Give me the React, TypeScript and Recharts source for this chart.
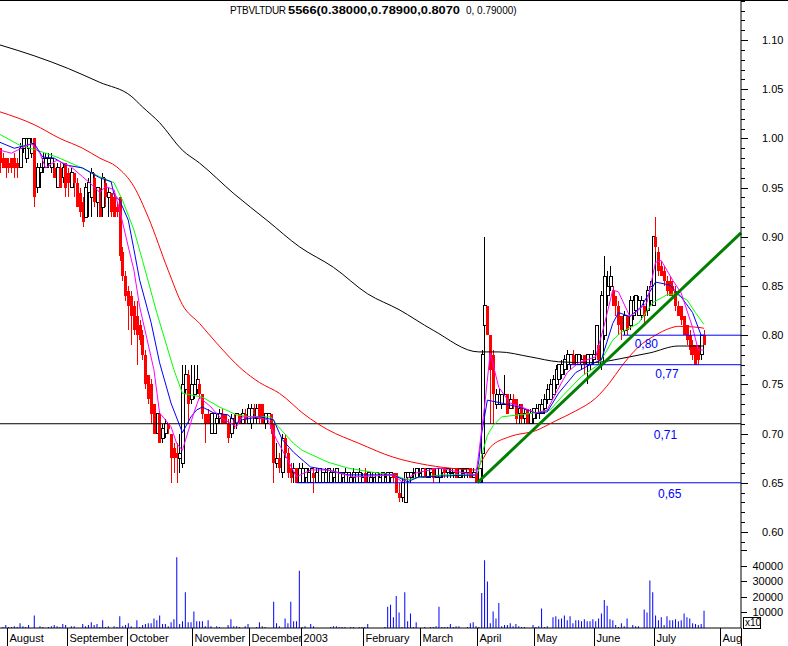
import React from "react";
import {
  ComposedChart,
  Bar,
  Line,
  XAxis,
  YAxis,
  ReferenceLine,
  ReferenceDot,
} from "recharts";

// daily candles [open, high, low, close] in cents, one array per month
const aug02 = [
  [99, 99, 96.5, 97.5], [98, 98.5, 97, 97], [98, 98, 96, 97], [97.5, 98, 96.5, 97],
  [98, 98, 96.5, 97], [98, 98.5, 96, 97], [97.5, 98, 96, 97], [97, 99.5, 97, 99],
  [99, 100, 98.5, 100], [98, 100, 97.5, 100], [99, 100, 98, 100], [98.5, 100, 98, 99.5],
  [100, 100, 93, 94], [95, 97.5, 94.5, 97], [96.5, 97.5, 95, 97], [97, 98.5, 96.5, 98],
  [97, 98.5, 97, 98], [97.5, 98.5, 97, 98], [97, 98.5, 96.5, 98], [97, 97.5, 96, 96],
  [95, 97.5, 95, 97], [97, 97.5, 95, 95], [96, 97.5, 95.5, 97], [97.5, 97.5, 94, 95],
];
const sep02 = [
  [96.5, 97, 94, 95.5], [95, 97, 95, 96.5], [96.5, 96.5, 94, 95.5], [95.5, 96, 93, 93],
  [94.5, 95, 92, 92.5], [93.5, 94, 91, 91.5], [92, 95.5, 92, 95], [94.5, 96, 92, 95.5],
  [94, 97, 92, 96.5], [96, 96.5, 93, 93.5], [93.5, 95, 92, 95], [95, 95, 92, 92],
  [93, 96.5, 92, 96], [95.5, 96, 93, 94], [94, 95, 92, 94.5], [94.5, 94.5, 92, 92.5],
  [94, 94.5, 92, 92], [93, 93.5, 92, 92.5], [94, 94, 87.5, 88], [88.5, 89, 85.5, 86],
  [86, 86.5, 83.5, 84],
];
const oct02 = [
  [84.5, 85, 80.5, 83], [84, 84.5, 79, 82], [83, 83.5, 80, 80.5], [82, 83.5, 77, 80],
  [81, 81.5, 79, 79.5], [80, 80.5, 77.5, 78], [78, 78.5, 74.5, 75], [76, 76, 73, 73.5],
  [75, 75.5, 71, 72], [73, 73, 70, 70], [70, 72, 70, 72], [72, 72, 69, 69],
  [69.5, 71, 69, 70.5], [70, 71.5, 69.5, 71], [71, 71, 70, 70.5], [70, 70, 65, 67.5],
  [68.5, 69, 66, 67.5], [68, 69, 65, 67.5], [67.5, 70, 66, 68], [67, 77, 66.5, 75],
  [74.5, 77, 74, 76], [76, 76.5, 71, 73], [73.5, 77, 73, 75],
];
const nov02 = [
  [74, 77, 73.5, 75], [74.5, 77, 74, 75.5], [75, 75.5, 73.5, 74], [74, 74, 71.5, 72],
  [72, 72, 69, 71], [72, 72.5, 71, 71], [70, 72, 70, 72], [70, 72, 70, 72],
  [71, 72, 70.5, 71.5], [71.5, 72.5, 71, 72], [72, 72.5, 71, 71], [72, 72, 71, 71],
  [71, 71.5, 69, 69.5], [70, 72, 69.5, 71.5], [71.5, 72, 70.5, 71], [71, 72, 70.5, 72],
  [72, 72, 71, 71], [71, 72.5, 71, 72], [72, 72.5, 71, 71.5], [71, 73, 71, 72.5],
];
const dec02 = [
  [71, 73, 70.5, 72.5], [72.5, 73, 71.5, 72], [71.5, 73, 71, 72.5], [73, 73, 71, 71.5],
  [73, 73, 71, 71], [71, 72, 70.5, 72], [71, 72, 71, 72], [72, 72, 70, 70.5],
  [71, 71, 65, 67], [67, 69, 66.5, 67.5], [67.5, 68, 66, 66.5], [66, 70, 65.5, 69.5],
  [69.5, 70, 67.5, 68], [68, 68.5, 65.5, 66], [66.5, 67, 65, 65.5], [66, 67, 65, 66.5],
  [66.5, 66.5, 65, 65], [65, 67, 65, 66.5],
];
const jan03 = [
  [65, 67, 65, 66.5], [65.5, 66.5, 65, 66.5], [65, 66.5, 65, 66], [65, 66.5, 65, 66.5],
  [66, 66.5, 64, 65.5], [65, 66.5, 65, 66], [65, 66.5, 65, 66.5], [65, 66, 65, 66],
  [65, 66.5, 65, 66], [65, 66.5, 65, 66.5], [65, 66, 65, 66], [65.5, 66.5, 65, 66],
  [65, 66.5, 65, 66.5], [65, 66, 65, 66], [65.5, 66, 65, 66], [65, 66.5, 65, 66],
  [65, 66, 65, 66], [65, 66, 65, 65.5], [65.5, 66.5, 65, 66], [65, 66, 65, 66],
  [65, 66.5, 65, 66], [65, 66, 65, 65.5],
];
const feb03 = [
  [66, 66.5, 65, 65], [65, 66, 65, 66], [65, 66, 65, 65.5], [65.5, 66, 65, 66],
  [65, 66, 65, 66], [65, 66, 65, 65.5], [65, 66, 65, 66], [65, 66, 65, 65.5],
  [65, 66, 65, 66], [65.5, 66, 65, 66], [66, 66, 65, 65.5], [66, 66, 64, 64],
  [64, 65, 63, 63.5], [63.5, 65.5, 63, 65], [63, 66, 63, 66], [65.5, 66, 65, 66],
  [65.5, 66, 65, 66], [66, 66.5, 65.5, 66], [65.5, 66.5, 65.5, 66.5], [66, 66.5, 65.5, 66],
];
const mar03 = [
  [65.5, 66.5, 65.5, 66.5], [66.5, 66.5, 65.5, 65.5], [65.5, 66.5, 65.5, 66.5], [66, 66.5, 65.5, 66.5],
  [66.5, 66.5, 65, 65.5], [65.5, 66.5, 65.5, 66.5], [65.5, 66.5, 65, 66.5], [66, 66.5, 65.5, 66.5],
  [66.5, 66.5, 65.5, 66], [66, 66.5, 65.5, 66.5], [66, 66.5, 65.5, 66], [66, 66.5, 65.5, 66.5],
  [66.5, 66.5, 65.5, 65.5], [65.5, 66.5, 65.5, 66.5], [66, 66.5, 65.5, 66], [66, 66.5, 65.5, 66.5],
  [66, 66.5, 65.5, 66.5], [66.5, 66.5, 65.5, 65.5], [65.5, 66.5, 65.5, 66], [66, 66.5, 65, 65],
];
const apr03 = [
  [65, 66.5, 65, 66.5], [68, 78.5, 65, 78], [81, 90, 78, 83], [83, 83, 80, 80],
  [80, 80, 71, 76.5], [78, 78.5, 71, 74], [73, 74.5, 72.5, 74], [73, 74.5, 73, 74],
  [73, 74, 72.5, 74], [73, 76, 73, 74], [74, 74, 72, 72], [72.5, 74, 72.5, 73.5],
  [73.5, 74, 72.5, 73], [73.5, 73.5, 71, 71.5], [72, 73, 71, 72.5], [73, 73, 71, 71.5],
  [71.5, 72.5, 71, 72], [72.5, 72.5, 71, 71], [71, 72.5, 71, 72], [71.5, 72.5, 71, 72.5],
];
const may03 = [
  [72, 73, 71.5, 72.5], [72, 73, 71.5, 73], [72, 73.5, 72, 73], [72.5, 74, 72, 73.5],
  [73.5, 75, 73, 74.5], [73.5, 75.5, 73.5, 75], [74, 76, 74, 75.5], [75, 77, 74.5, 76.5],
  [75.5, 77, 75, 77], [76, 77.5, 75.5, 77], [76.5, 78, 76, 77.5], [77, 78.5, 76.5, 78],
  [77, 78, 76.5, 78], [78, 78.5, 77, 77], [77, 78, 77, 78], [77, 78, 77, 78],
  [77, 78, 76.5, 77.5], [78, 78, 76, 77], [77, 78, 75, 78], [77, 78, 76.5, 78],
  [77.5, 78.5, 77, 78],
];
const jun03 = [
  [78, 81, 78, 81], [79, 79, 77, 77.5], [77, 84.5, 76.5, 84], [80, 88, 79.5, 86],
  [84, 86.5, 83, 85], [85, 87, 84.5, 86], [84.5, 85, 83, 83], [84, 84, 82, 83],
  [83, 83.5, 80, 81], [82, 82, 79.5, 80.5], [80.5, 82.5, 80, 82], [82, 82, 80, 80.5],
  [81, 84, 80.5, 83.5], [82, 84, 81.5, 83.5], [82.5, 84, 82, 84], [82, 84, 82, 83.5],
  [82, 84, 81.5, 83.5], [83, 83, 81, 82], [82.5, 85, 82, 84.5], [83.5, 85.5, 83, 85],
  [83, 90, 83, 90],
];
const jul03 = [
  [90, 92, 88.5, 89], [88.5, 89, 86, 86.5], [87, 87.5, 86, 86], [86.5, 87, 85, 85.5],
  [85.5, 86, 84, 84.5], [85.5, 86, 84, 84], [85, 85.5, 84, 84.5], [84.5, 85, 82.5, 83],
  [83, 83.5, 82, 82], [83, 83, 81, 81.5], [82, 82, 80, 80], [81, 81, 79, 79.5],
  [80, 80.5, 78, 78.5], [79, 79.5, 77.5, 78], [79, 79, 77, 77], [79, 79, 77, 77.5],
  [78, 80, 77.5, 80], [80, 80.5, 79, 79],
];

// volume in thousands, [day, volume]
const volumeK = [
  [1, 0.6], [2, 2], [3, 0.6], [4, 0.6], [5, 1.2], [6, 0.6], [7, 3], [8, 1.2], [9, 0.6], [10, 2],
  [12, 8], [14, 1.2], [15, 0.6], [17, 0.6], [18, 1.2], [19, 2], [20, 1.2], [21, 0.6], [22, 2.5],
  [23, 2], [25, 1.2], [26, 1.2], [29, 2.5], [30, 1.2], [31, 2], [32, 3.7], [33, 2], [34, 2.5],
  [35, 0.6], [36, 5], [37, 0.6], [38, 1.2], [40, 1.2], [41, 0.6], [42, 7.5], [43, 1.2], [44, 2],
  [45, 3], [46, 1.2], [48, 5], [49, 0.6], [50, 2], [51, 2.5], [52, 3], [53, 3], [54, 6.2],
  [55, 5], [56, 8], [57, 2.5], [58, 2.5], [59, 1.2], [60, 3.7], [61, 5.6], [62, 45.6], [63, 2.5],
  [64, 4.4], [65, 23], [66, 3.7], [67, 3.7], [68, 10.6], [69, 4.4], [70, 4.4], [71, 4.4],
  [72, 1.2], [73, 5], [74, 1.2], [76, 1.2], [77, 0.6], [80, 2], [81, 5.6], [82, 1.2], [83, 1.2],
  [84, 0.6], [86, 1.2], [87, 2.5], [90, 0.6], [91, 3.7], [92, 1.2], [93, 0.6], [96, 17], [97, 3],
  [98, 1.2], [100, 6.2], [101, 3], [102, 17], [103, 4.4], [104, 4.4], [105, 37], [106, 0.6],
  [107, 1.2], [109, 2.5], [110, 1.2], [116, 0.6], [117, 1.2], [118, 1.2], [119, 0.6], [120, 0.6],
  [121, 0.6], [123, 0.6], [124, 0.6], [126, 0.6], [127, 0.6], [128, 0.6], [129, 2.5], [135, 0.6],
  [136, 13.7], [137, 15], [138, 6.9], [139, 20.6], [140, 10], [141, 0.6], [142, 23], [143, 4.4],
  [144, 9.4], [145, 0.6], [146, 3.7], [149, 0.6], [151, 0.6], [152, 0.6], [153, 1.2], [154, 13.7],
  [155, 0.6], [156, 0.6], [157, 0.6], [158, 2.5], [159, 0.6], [160, 1.2], [161, 1.2], [164, 0.6],
  [165, 3], [166, 3.7], [167, 1.2], [168, 0.6], [169, 22.5], [170, 43.7], [171, 30], [172, 3],
  [173, 10.6], [174, 6.2], [175, 16.2], [176, 1.2], [177, 2], [178, 2], [179, 3], [180, 1.2],
  [181, 2.5], [182, 1.2], [183, 0.6], [184, 0.6], [187, 2], [188, 0.6], [189, 1.2], [190, 12.5],
  [191, 0.6], [192, 1.2], [194, 6.9], [195, 7.5], [196, 5.6], [197, 6.2], [198, 8.1], [199, 5],
  [200, 7.5], [201, 3], [202, 5], [203, 5], [204, 4.4], [205, 5.6], [206, 4.4], [207, 4.4],
  [208, 5.6], [209, 4.4], [210, 6.2], [211, 9.4], [212, 18], [213, 14.4], [214, 5.6], [215, 5],
  [216, 2], [217, 0.6], [218, 3], [219, 1.2], [220, 6.2], [222, 2], [223, 1.2], [224, 1.2],
  [226, 11.9], [227, 10], [228, 30.6], [229, 23], [230, 8], [231, 5], [232, 6.9], [233, 2],
  [234, 7.5], [235, 5], [236, 5], [237, 5.6], [238, 4.4], [239, 5], [240, 9.4], [241, 6.9],
  [242, 6.2], [243, 3], [244, 2.5], [245, 2], [246, 2.5], [247, 11.2],
];

// moving averages, [day, price]
const blackMa = [
  [0, 1.095], [12, 1.084], [24, 1.071], [35, 1.057], [46, 1.043], [50, 1.032], [56, 1.016],
  [64, 0.988], [70, 0.975], [82, 0.944], [94, 0.916], [105, 0.89], [117, 0.869], [129, 0.842],
  [140, 0.826], [152, 0.805], [168, 0.783], [175, 0.783], [186, 0.778], [196, 0.773],
  [207, 0.772], [221, 0.778], [228, 0.782], [238, 0.789], [247, 0.789],
];
const redMa = [
  [0, 1.027], [12, 1.014], [21, 1.0], [29, 0.99], [35, 0.98], [41, 0.971], [47, 0.951],
  [52, 0.92], [59, 0.866], [64, 0.831], [70, 0.812], [76, 0.792], [85, 0.765], [91, 0.752],
  [98, 0.741], [107, 0.719], [115, 0.704], [126, 0.69], [138, 0.676], [150, 0.668],
  [161, 0.664], [167, 0.663], [169, 0.672], [172, 0.686], [179, 0.697], [188, 0.703],
  [195, 0.713], [202, 0.723], [209, 0.736], [214, 0.752], [218, 0.768], [224, 0.788],
  [230, 0.8], [235, 0.807], [238, 0.809], [245, 0.808], [247, 0.807],
];
const greenMa = [
  [0, 1.004], [7, 0.993], [13, 0.988], [20, 0.981], [28, 0.971], [35, 0.961], [40, 0.955],
  [43, 0.937], [47, 0.907], [50, 0.876], [55, 0.823], [61, 0.765], [64, 0.741], [71, 0.737],
  [77, 0.727], [83, 0.719], [88, 0.717], [95, 0.717], [97, 0.709], [103, 0.69], [106, 0.683],
  [115, 0.671], [122, 0.665], [130, 0.661], [138, 0.658], [143, 0.653], [146, 0.655],
  [155, 0.658], [167, 0.658], [168, 0.663], [169, 0.678], [171, 0.698], [173, 0.708],
  [176, 0.717], [182, 0.719], [188, 0.721], [193, 0.724], [197, 0.737], [204, 0.758],
  [210, 0.77], [215, 0.795], [218, 0.803], [224, 0.812], [229, 0.833], [234, 0.841],
  [237, 0.842], [241, 0.836], [244, 0.823], [247, 0.811],
];
const blueMa = [
  [0, 0.996], [5, 0.99], [12, 0.995], [15, 0.981], [19, 0.98], [23, 0.973], [29, 0.97],
  [35, 0.96], [39, 0.956], [40, 0.943], [42, 0.937], [45, 0.917], [47, 0.887], [49, 0.856],
  [53, 0.813], [56, 0.772], [60, 0.731], [64, 0.701], [67, 0.717], [69, 0.724], [71, 0.727],
  [75, 0.721], [80, 0.719], [83, 0.711], [85, 0.714], [91, 0.717], [96, 0.714], [99, 0.694],
  [103, 0.681], [109, 0.666], [115, 0.663], [122, 0.658], [138, 0.658], [143, 0.651],
  [147, 0.656], [167, 0.658], [168, 0.672], [169, 0.7], [171, 0.734], [176, 0.731],
  [182, 0.727], [188, 0.721], [192, 0.722], [196, 0.741], [202, 0.762], [207, 0.77],
  [211, 0.775], [215, 0.812], [217, 0.823], [221, 0.819], [225, 0.829], [230, 0.854],
  [235, 0.851], [239, 0.839], [243, 0.823], [246, 0.8], [247, 0.8],
];
const magentaMa = [
  [0, 0.988], [4, 0.985], [11, 0.995], [14, 0.985], [16, 0.97], [20, 0.978], [25, 0.971],
  [29, 0.961], [33, 0.951], [35, 0.945], [37, 0.951], [40, 0.948], [42, 0.927], [45, 0.89],
  [47, 0.866], [49, 0.829], [54, 0.765], [56, 0.721], [60, 0.707], [62, 0.69], [64, 0.683],
  [68, 0.721], [70, 0.737], [74, 0.727], [77, 0.717], [83, 0.707], [85, 0.717], [90, 0.717],
  [94, 0.714], [97, 0.694], [101, 0.673], [104, 0.656], [109, 0.663], [115, 0.663],
  [124, 0.656], [138, 0.658], [141, 0.651], [146, 0.66], [154, 0.665], [161, 0.661],
  [167, 0.658], [168, 0.68], [170, 0.727], [172, 0.782], [175, 0.747], [179, 0.731],
  [183, 0.727], [188, 0.721], [192, 0.724], [195, 0.741], [199, 0.762], [203, 0.772],
  [209, 0.778], [212, 0.81], [215, 0.846], [217, 0.844], [221, 0.819], [223, 0.823],
  [227, 0.833], [230, 0.874], [232, 0.876], [236, 0.856], [239, 0.843], [243, 0.808],
  [245, 0.785], [247, 0.785],
];

// horizontal support / resistance levels and the rising trend line
const levels = [
  { value: 0.8, from: 218.4, color: "#0000ff", label: "0,80" },
  { value: 0.77, from: 199.8, color: "#0000ff", label: "0,77" },
  { value: 0.71, from: 0, color: "#000000", label: "0,71" },
  { value: 0.65, from: 104, color: "#0000ff", label: "0,65" },
];
const levelLabelAt = [
  [226.8, 0.791],
  [234, 0.7606],
  [233.5, 0.6986],
  [235, 0.6386],
];
const trendLine = [
  [167.5, 0.65],
  [260, 0.904],
];

const monthStarts = [2.5, 23.5, 44.5, 67.5, 87.5, 105.5, 127.5, 147.5, 167.5, 187.5, 208.5, 229.5, 252.5, 260];
const monthLabels = [
  "August", "September", "October", "November", "December", "2003", "February",
  "March", "April", "May", "June", "July", "Aug", "",
];
const priceLabels = ["0.60", "0.65", "0.70", "0.75", "0.80", "0.85", "0.90", "0.95", "1.00", "1.05", "1.10"];
const volumeLabels = ["10000", "20000", "30000", "40000"];

const candles = [aug02, sep02, oct02, nov02, dec02, jan03, feb03, mar03, apr03, may03, jun03, jul03].flat();

const rows: any[] = candles.map(([o, h, l, c], d) => ({
  d,
  o: o / 100,
  h: h / 100,
  l: l / 100,
  c: c / 100,
  range: [l / 100, h / 100],
}));
const addSeries = (key: string, pts: number[][]) =>
  pts.forEach(([d, v]) => {
    rows[d][key] = v;
  });
addSeries("black", blackMa);
addSeries("red", redMa);
addSeries("green", greenMa);
addSeries("blue", blueMa);
addSeries("magenta", magentaMa);

const volRows = volumeK.map(([d, k]) => ({ d, v: k * 1000 }));

const priceTicks = Array.from({ length: 56 }, (_, i) => Math.round((0.59 + i * 0.01) * 100) / 100);
const volTicks = [10000, 20000, 30000, 40000, 50000];

const FONT = '"Liberation Sans", Arial, sans-serif';

const Candle = (props: any) => {
  const { x, y, width, height, payload } = props;
  const { o, h, l, c } = payload;
  const k = h > l ? height / (h - l) : 0;
  const cx = Math.round(x + width / 2) + 0.5;
  const yo = y + (h - o) * k;
  const yc = y + (h - c) * k;
  const top = Math.min(yo, yc);
  const bh = Math.max(Math.abs(yc - yo), 1);
  const up = c >= o;
  const col = up ? "#000000" : "#ff0000";
  return (
    <g shapeRendering="crispEdges">
      <line x1={cx} x2={cx} y1={y} y2={y + Math.max(height, 1)} stroke={col} />
      {up ? (
        <rect x={cx - 1.5} y={top} width={3} height={bh} fill="#ffffff" stroke="#000000" />
      ) : (
        <rect x={cx - 1.5} y={top} width={3} height={bh} fill="#ff0000" />
      )}
    </g>
  );
};

const NoDot = () => <g />;

const PriceTick = ({ x, y, payload }: any) => {
  const cents = Math.round(payload.value * 100);
  const major = cents % 5 === 0;
  const label = priceLabels.find((p) => Math.round(parseFloat(p) * 100) === cents);
  return (
    <g>
      <line x1={x} x2={x + (major ? 7 : 4)} y1={Math.round(y) + 0.5} y2={Math.round(y) + 0.5} stroke="#000" />
      {label && (
        <text x={x + 21} y={y + 4} fontSize={11} fill="#000" fontFamily={FONT}>
          {label}
        </text>
      )}
    </g>
  );
};

const VolTick = ({ x, y, index }: any) => (
  <g>
    <line x1={x} x2={x + 6} y1={Math.round(y) + 0.5} y2={Math.round(y) + 0.5} stroke="#000" />
    {volumeLabels[index] && (
      <text x={x + 42} y={y + 4} fontSize={11} fill="#000" textAnchor="end" fontFamily={FONT}>
        {volumeLabels[index]}
      </text>
    )}
  </g>
);

const MonthTick = ({ x, y, payload }: any) => {
  const i = monthStarts.indexOf(payload.value);
  const xx = Math.round(x) + 0.5;
  return (
    <g>
      <line x1={xx} x2={xx} y1={y} y2={y + 18} stroke="#000" />
      <text x={xx + 2} y={y + 14} fontSize={11} fill="#000" fontFamily={FONT}>
        {monthLabels[i]}
      </text>
    </g>
  );
};

const maLines = [
  { key: "black", color: "#000000", type: "monotone" },
  { key: "red", color: "#ff0000", type: "monotone" },
  { key: "green", color: "#00ff00", type: "linear" },
  { key: "blue", color: "#0000ff", type: "linear" },
  { key: "magenta", color: "#ff00ff", type: "linear" },
];

export default function App() {
  return (
    <div
      style={{
        position: "absolute",
        left: 0,
        top: 0,
        width: 788,
        height: 646,
        background: "#ffffff",
        fontFamily: FONT,
        overflow: "hidden",
      }}
    >
      <div style={{ position: "absolute", left: 0, top: 0 }}>
        <ComposedChart width={788} height={548} data={rows} margin={{ top: 0, right: 0, left: 0, bottom: 0 }}>
          <XAxis dataKey="d" type="number" domain={[0, 260]} hide allowDataOverflow />
          <YAxis
            orientation="right"
            width={47}
            domain={[0.5837, 1.1407]}
            allowDataOverflow
            ticks={priceTicks}
            interval={0}
            tickLine={false}
            tickSize={0}
            tickMargin={0}
            tick={<PriceTick />}
            axisLine={{ stroke: "#000" }}
          />
          <ReferenceLine y={levels[2].value} stroke={levels[2].color} />
          <Bar dataKey="range" barSize={3} shape={<Candle />} isAnimationActive={false} />
          {maLines.map((m) => (
            <Line
              key={m.key}
              dataKey={m.key}
              stroke={m.color}
              strokeWidth={1}
              dot={<NoDot />}
              activeDot={false}
              connectNulls
              type={m.type as any}
              isAnimationActive={false}
            />
          ))}
          {levels
            .filter((lv) => lv.from > 0)
            .map((lv) => (
              <ReferenceLine
                key={lv.label}
                segment={[
                  { x: lv.from, y: lv.value },
                  { x: 260, y: lv.value },
                ]}
                stroke={lv.color}
              />
            ))}
          <ReferenceLine
            segment={trendLine.map(([x, y]) => ({ x, y }))}
            stroke="#008000"
            strokeWidth={3}
          />
          {levels.map((lv, i) => (
            <ReferenceDot
              key={"lbl" + lv.label}
              x={levelLabelAt[i][0]}
              y={levelLabelAt[i][1]}
              r={0}
              fill="none"
              stroke="none"
              label={{ value: lv.label, position: "center", fill: "#0000ff", fontSize: 12 }}
            />
          ))}
        </ComposedChart>
      </div>
      <div style={{ position: "absolute", left: 0, top: 548 }}>
        <ComposedChart width={788} height={98} data={volRows} margin={{ top: 0, right: 0, left: 0, bottom: 0 }}>
          <XAxis
            dataKey="d"
            type="number"
            domain={[0, 260]}
            ticks={monthStarts}
            interval={0}
            height={18}
            tickLine={false}
            tickSize={0}
            tickMargin={0}
            tick={<MonthTick />}
            axisLine={{ stroke: "#000" }}
          />
          <YAxis
            orientation="right"
            width={47}
            domain={[0, 51600]}
            ticks={volTicks}
            interval={0}
            tickLine={false}
            tickSize={0}
            tickMargin={0}
            tick={<VolTick />}
            axisLine={{ stroke: "#000" }}
          />
          <Bar dataKey="v" fill="#0000ff" barSize={1} isAnimationActive={false} />
        </ComposedChart>
      </div>
      <svg
        width={788}
        height={646}
        style={{ position: "absolute", left: 0, top: 0, pointerEvents: "none" }}
        fontFamily={FONT}
      >
        <line x1={0} x2={788} y1={0.5} y2={0.5} stroke="#000" />
        <text x={230} y={14} fontSize={10} fill="#000" textLength={56} lengthAdjust="spacing">
          PTBVLTDUR
        </text>
        <text
          x={288}
          y={14}
          fontSize={10}
          fontWeight="bold"
          fill="#000"
          textLength={172}
          lengthAdjust="spacingAndGlyphs"
        >
          5566(0.38000,0.78900,0.8070
        </text>
        <text x={466} y={14} fontSize={10} fill="#000">
          0, 0.79000)
        </text>
        <rect x={743.5} y={617.5} width={17} height={11} fill="#fff" stroke="#000" />
        <text x={745} y={626} fontSize={10} fill="#000">
          x10
        </text>
      </svg>
    </div>
  );
}
